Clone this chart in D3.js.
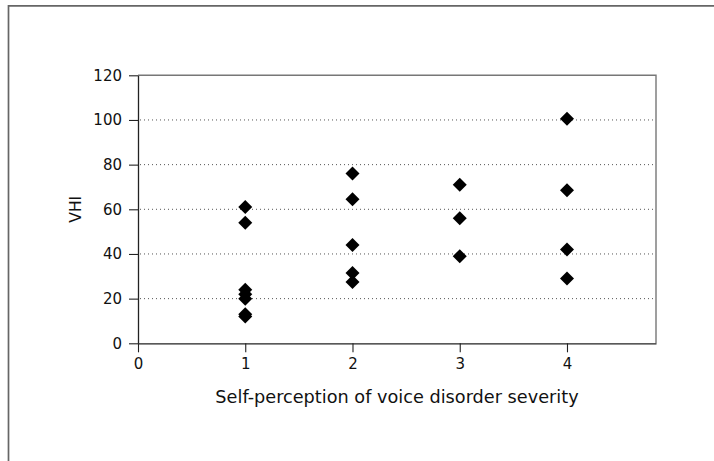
<!DOCTYPE html>
<html>
<head>
<meta charset="utf-8">
<script src="https://cdn.jsdelivr.net/npm/d3@7"></script>
<style>
  html, body { margin: 0; padding: 0; background: #fff; }
  svg { display: block; font-family: "DejaVu Sans", Verdana, sans-serif; }
</style>
</head>
<body>
<div id="chart"></div>
<script>
// VHI score vs self-perceived severity of voice disorder (one diamond per patient)

const severity = [1, 1, 1, 1, 1, 1, 1, 2, 2, 2, 2, 2, 3, 3, 3, 4, 4, 4, 4];
const vhi      = [61, 54, 24, 22, 20, 13, 12, 76, 64.5, 44, 31.5, 27.5, 71, 56, 39, 100.5, 68.5, 42, 29];

const xTicks = [0, 1, 2, 3, 4];
const yTicks = [0, 20, 40, 60, 80, 100, 120];
const xTitle = "Self-perception of voice disorder severity";
const yTitle = "VHI";

const WIDTH = 714, HEIGHT = 461;
const margin = { left: 138, right: 58, top: 75.3, bottom: 117.7 };
const FONT = "\"DejaVu Sans\", Verdana, sans-serif";

const svg = d3.select("#chart").append("svg")
  .attr("width", WIDTH)
  .attr("height", HEIGHT);

// page frame: only top and left edges show
svg.append("path")
  .attr("d", `M8.5,${HEIGHT} V5.8 H${WIDTH}`)
  .attr("fill", "none")
  .attr("stroke", "#666")
  .attr("stroke-width", 1.7);

const x = d3.scaleLinear()
  .domain([0, 4.83])
  .range([margin.left, WIDTH - margin.right]);

const y = d3.scaleLinear()
  .domain([0, 120])
  .range([HEIGHT - margin.bottom, margin.top]);

// dotted gridlines
svg.append("g")
  .selectAll("line")
  .data(yTicks.filter(d => d > 0 && d < 120))
  .join("line")
    .attr("x1", x(0) + 2)
    .attr("x2", x.range()[1] - 1)
    .attr("y1", d => y(d))
    .attr("y2", d => y(d))
    .attr("stroke", "#555")
    .attr("stroke-width", 1)
    .attr("stroke-dasharray", "1,3");

// top and right edges of the plot box
svg.append("path")
  .attr("d", `M${x(0)},${y(120)} H${x.range()[1]} V${y(0)}`)
  .attr("fill", "none")
  .attr("stroke", "#777")
  .attr("stroke-width", 1.4);

// axes
const xAxis = svg.append("g")
  .attr("transform", `translate(0,${y(0)})`)
  .call(d3.axisBottom(x).tickValues(xTicks).tickFormat(d3.format("d"))
    .tickSize(9).tickPadding(6).tickSizeOuter(0));

const yAxis = svg.append("g")
  .attr("transform", `translate(${x(0)},0)`)
  .call(d3.axisLeft(y).tickValues(yTicks).tickFormat(d3.format("d"))
    .tickSize(9).tickPadding(7).tickSizeOuter(0));

[xAxis, yAxis].forEach(g => {
  g.attr("font-size", 15).attr("font-family", FONT);
  g.select(".domain").attr("stroke", "#222").attr("stroke-width", 1.3);
  g.selectAll(".tick line").attr("stroke", "#222").attr("stroke-width", 1.1);
  g.selectAll(".tick text").attr("fill", "#111");
});

// diamonds: squares turned 45 degrees
const diamond = d3.symbol().type(d3.symbolSquare).size(98);
svg.append("g")
  .selectAll("path")
  .data(severity.map((s, i) => ({ s, v: vhi[i] })))
  .join("path")
    .attr("d", diamond)
    .attr("transform", d => `translate(${x(d.s)},${y(d.v)}) rotate(45)`)
    .attr("fill", "#000");

// axis titles
svg.append("text")
  .attr("x", (x.range()[0] + x.range()[1]) / 2)
  .attr("y", 403)
  .attr("text-anchor", "middle")
  .attr("font-size", 17.7)
  .attr("fill", "#111")
  .text(xTitle);

svg.append("text")
  .attr("transform", `translate(81,${y(60)}) rotate(-90)`)
  .attr("text-anchor", "middle")
  .attr("font-size", 15.5)
  .attr("fill", "#111")
  .text(yTitle);
</script>
</body>
</html>
